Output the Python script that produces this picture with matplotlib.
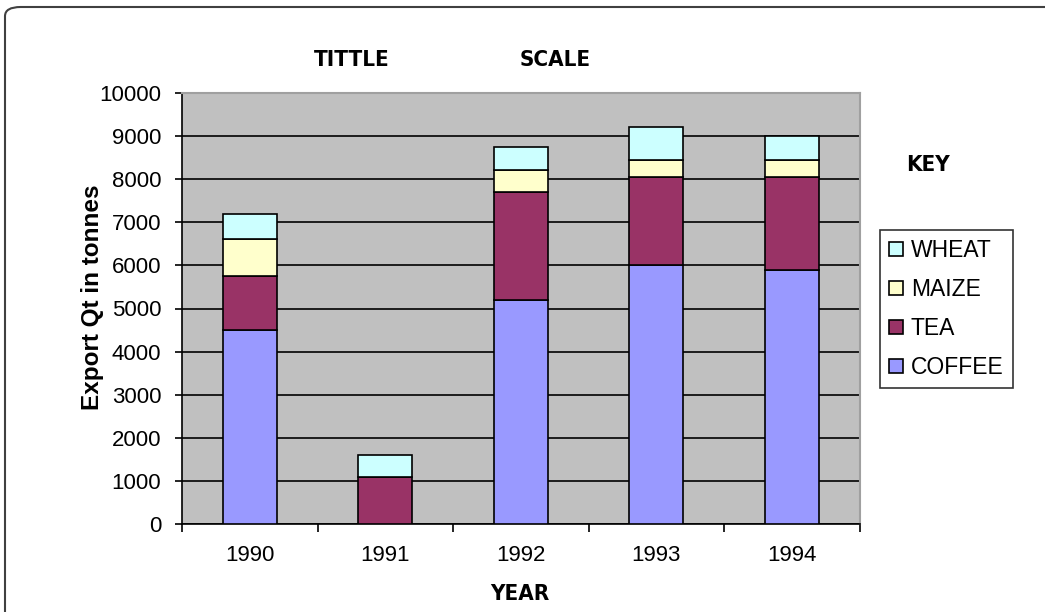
import numpy as np
import matplotlib
matplotlib.use("Agg")
import matplotlib.pyplot as plt
from matplotlib.patches import FancyBboxPatch

years = ["1990", "1991", "1992", "1993", "1994"]
coffee = [4500, 0, 5200, 6000, 5900]
tea = [1250, 1100, 2500, 2050, 2150]
maize = [850, 0, 500, 400, 400]
wheat = [600, 500, 550, 750, 550]
y_ticks = [0, 1000, 2000, 3000, 4000, 5000, 6000, 7000, 8000, 9000, 10000]

plt.rcParams["font.family"] = ["Liberation Sans", "DejaVu Sans"]
bold_font = dict(family="DejaVu Sans", fontstretch="condensed", fontweight="bold")

W, H = 1045, 612
fig = plt.figure(figsize=(W / 100, H / 100), dpi=100)

# marco redondeado exterior (se sale por la derecha y por abajo)
frame = FancyBboxPatch((5 / W, -0.05), 1.2, 1 - 7 / H + 0.05,
                       boxstyle="round,pad=0,rounding_size=0.015",
                       transform=fig.transFigure, fill=False,
                       edgecolor="#404040", linewidth=1.5, clip_on=False)
fig.patches.append(frame)

ax = fig.add_axes([182 / W, 1 - 524.3 / H, (859.5 - 182) / W, (524.3 - 92.7) / H])
ax.set_facecolor("#C0C0C0")

x = np.arange(len(years))
series = [("COFFEE", coffee, "#9999FF"), ("TEA", tea, "#993366"),
          ("MAIZE", maize, "#FFFFCC"), ("WHEAT", wheat, "#CCFFFF")]
bottom = np.zeros(len(years))
handles = []
for name, vals, col in series:
    vals = np.array(vals, dtype=float)
    b = ax.bar(x, vals, bottom=bottom, width=0.4, color=col,
               edgecolor="black", linewidth=1.2, label=name, zorder=3)
    handles.append(b)
    bottom += vals

ax.set_xlim(-0.5, len(years) - 0.5)
ax.set_ylim(0, 10000)
ax.set_yticks(y_ticks)
ax.set_yticklabels([str(t) for t in y_ticks], fontsize=16)
ax.set_xticks(x)
ax.set_xticklabels(years, fontsize=16)
ax.set_xticks(np.arange(len(years) + 1) - 0.5, minor=True)
ax.tick_params(axis="x", which="major", length=0, pad=15)
ax.tick_params(axis="x", which="minor", length=6, width=1.2, direction="out")
ax.tick_params(axis="y", length=5, width=1.2, direction="out", pad=10)
ax.grid(axis="y", color="black", linewidth=1.2, zorder=1)
ax.set_axisbelow(True)

for side in ["top", "right"]:
    ax.spines[side].set_color("#A0A0A0")
    ax.spines[side].set_linewidth(1.5)
for side in ["left", "bottom"]:
    ax.spines[side].set_color("black")
    ax.spines[side].set_linewidth(1.2)

# etiquetas de ejes y textos sueltos
fig.text(93 / W, 1 - 297 / H, "Export Qt in tonnes", fontsize=17.5,
         fontweight="bold", rotation=90, ha="center", va="center")
fig.text(520 / W, 1 - 594 / H, "YEAR", fontsize=16, ha="center", va="center",
         **bold_font)
fig.text(352 / W, 1 - 60 / H, "TITTLE", fontsize=16, ha="center", va="center",
         **bold_font)
fig.text(555 / W, 1 - 60 / H, "SCALE", fontsize=16, ha="center", va="center",
         **bold_font)
fig.text(928 / W, 1 - 165 / H, "KEY", fontsize=16, ha="center", va="center",
         **bold_font)

leg = fig.legend(handles[::-1], [s[0] for s in series][::-1],
                 loc="upper left", bbox_to_anchor=(880 / W, 1 - 230 / H),
                 frameon=True, fancybox=False, fontsize=16.5,
                 handlelength=0.6, handleheight=0.6, handletextpad=0.35,
                 labelspacing=0.7, borderpad=0.4, borderaxespad=0)
leg.get_frame().set_edgecolor("black")
leg.get_frame().set_linewidth(1.2)

fig.savefig("out.png", dpi=100)
